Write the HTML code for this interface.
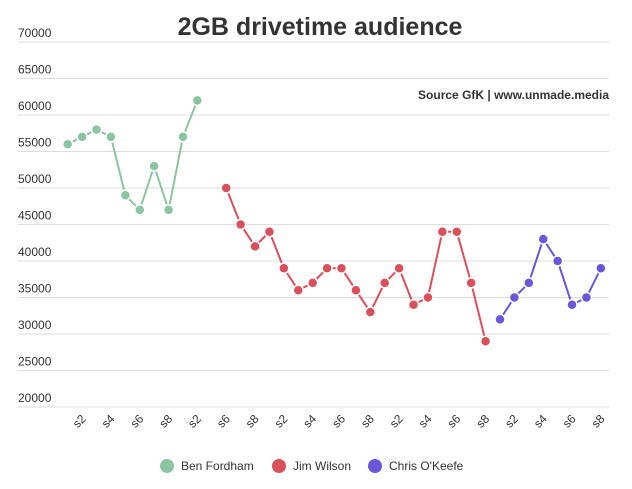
<!DOCTYPE html>
<html><head><meta charset="utf-8"><style>
body{margin:0;background:#fff;font-family:"Liberation Sans",sans-serif;}
svg text{font-family:"Liberation Sans",sans-serif;}
</style></head><body>
<svg id="c" width="632" height="484">
<text x="320" y="35" text-anchor="middle" font-size="25" font-weight="bold" fill="#333">2GB drivetime audience</text>
<text x="609" y="99" text-anchor="end" font-size="12" font-weight="bold" fill="#333">Source GfK | www.unmade.media</text>
<g id="grid"></g><g id="xt"></g><g id="series"></g>
<g>
<g><circle cx="167" cy="466" r="7" fill="#8bc4a1"/><text x="181" y="470" font-size="12" fill="#333">Ben Fordham</text></g>
<g><circle cx="279" cy="466" r="7" fill="#d9505a"/><text x="293" y="470" font-size="12" fill="#333">Jim Wilson</text></g>
<g><circle cx="375" cy="466" r="7" fill="#6b55d8"/><text x="389" y="470" font-size="12" fill="#333">Chris O'Keefe</text></g>
</g>
</svg>
<script>
const yTicks=[20000,25000,30000,35000,40000,45000,50000,55000,60000,65000,70000];
const xLabels=["s2","s4","s6","s8","s2","s6","s8","s2","s4","s6","s8","s2","s4","s6","s8","s2","s4","s6","s8"];
const benValues=[56000,57000,58000,57000,49000,47000,53000,47000,57000,62000];
const jimValues=[50000,45000,42000,44000,39000,36000,37000,39000,39000,36000,33000,37000,39000,34000,35000,44000,44000,37000,29000];
const chrisValues=[32000,35000,37000,43000,40000,34000,35000,39000];
const ns="http://www.w3.org/2000/svg";
const X=i=>67.7+i*14.41;
const Y=v=>407-(v-20000)/5000*36.5;
function mk(t,a,p){const e=document.createElementNS(ns,t);for(const k in a)e.setAttribute(k,a[k]);p.appendChild(e);return e;}
const g=document.getElementById('grid');
yTicks.forEach(v=>{
 const l=mk('line',{x1:18,x2:609,y1:Y(v),y2:Y(v),stroke:'#ddd','stroke-width':1},g);
 
 
 const t=mk('text',{x:18,y:Y(v)-5,'font-size':12,fill:'#333'},g);t.textContent=v;
 
 
});
const xt=document.getElementById('xt');
xLabels.forEach((s,k)=>{
 const x=X(1+2*k),y=424;
 const t=mk('text',{x:x,y:y,'font-size':12,fill:'#333','text-anchor':'middle',transform:`rotate(-45 ${x} ${y})`},xt);t.textContent=s;
 
 
});
const sg=document.getElementById('series');
function series(vals,start,col,name){
 const pts=vals.map((v,i)=>X(start+i)+','+Y(v)).join(' ');
 const pl=mk('polyline',{points:pts,fill:'none',stroke:col,'stroke-width':2},sg);
 
 
 vals.forEach((v,i)=>{
  const c=mk('circle',{cx:X(start+i),cy:Y(v),r:5,fill:col,stroke:'#fff','stroke-width':1.5},sg);
  
  
 });
}
series(benValues,0,'#8bc4a1','ben-fordham');
series(jimValues,11,'#d9505a','jim-wilson');
series(chrisValues,30,'#6b55d8','chris-okeefe');
</script>
</body></html>
